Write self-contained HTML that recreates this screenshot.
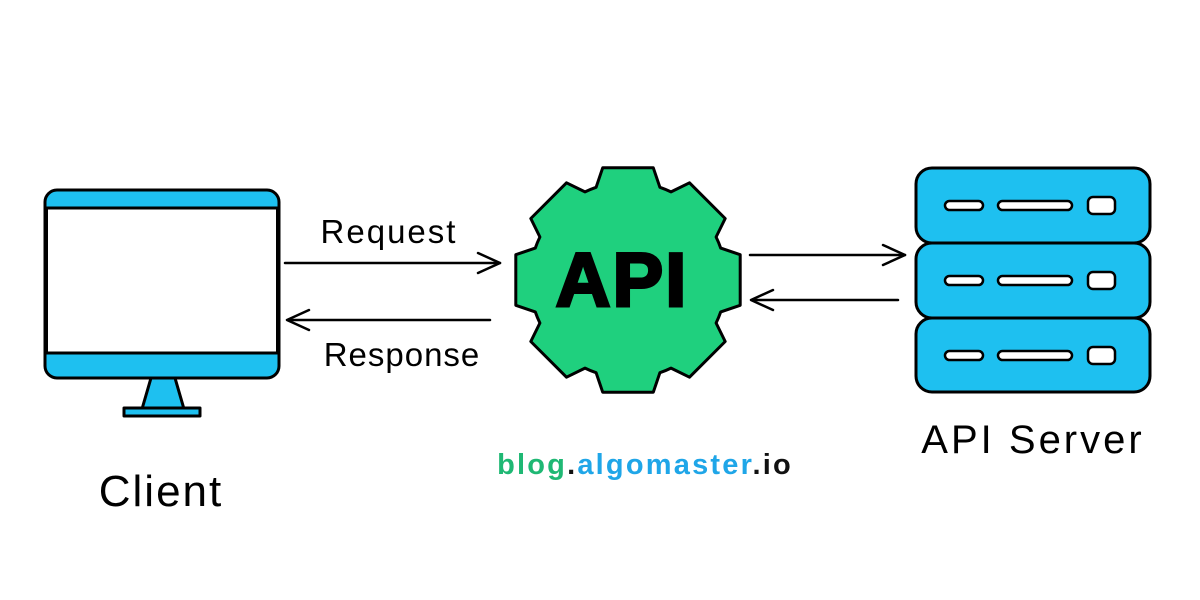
<!DOCTYPE html>
<html><head><meta charset="utf-8"><style>
html,body{margin:0;padding:0;background:#fff;}
svg{display:block;}
</style></head><body>
<svg width="1200" height="600" viewBox="0 0 1200 600" xmlns="http://www.w3.org/2000/svg">
<rect width="1200" height="600" fill="#fff"/>
<g stroke="#000" stroke-width="3" stroke-linejoin="round">
<polygon points="151,378 175,378 184,409 142,409" fill="#1ec0f0"/>
<rect x="124" y="408" width="76" height="8" fill="#1ec0f0"/>
<rect x="45" y="190" width="234" height="188" rx="12" fill="#1ec0f0"/>
<rect x="46.5" y="208" width="231" height="145" fill="#fff"/>
</g>
<g stroke="#000" stroke-width="2.5" fill="none" stroke-linecap="round" stroke-linejoin="round">
<line x1="285" y1="263" x2="500" y2="263"/>
<polyline points="478,253 500,263 478,273"/>
<line x1="288" y1="320" x2="490" y2="320"/>
<polyline points="309,310 287,320 309,330"/>
<line x1="750" y1="255" x2="905" y2="255"/>
<polyline points="883,245 905,255 883,265"/>
<line x1="752" y1="300" x2="898" y2="300"/>
<polyline points="773,290 751,300 773,310"/>
</g>
<path d="M596.1,187.3 L602.7,167.8 L653.3,167.8 L659.9,187.3 A98 98 0 0 1 671.0,191.9 L689.5,182.8 L725.2,218.5 L716.1,237.0 A98 98 0 0 1 720.7,248.1 L740.2,254.7 L740.2,305.3 L720.7,311.9 A98 98 0 0 1 716.1,323.0 L725.2,341.5 L689.5,377.2 L671.0,368.1 A98 98 0 0 1 659.9,372.7 L653.3,392.2 L602.7,392.2 L596.1,372.7 A98 98 0 0 1 585.0,368.1 L566.5,377.2 L530.8,341.5 L539.9,323.0 A98 98 0 0 1 535.3,311.9 L515.8,305.3 L515.8,254.7 L535.3,248.1 A98 98 0 0 1 539.9,237.0 L530.8,218.5 L566.5,182.8 L585.0,191.9 A98 98 0 0 1 596.1,187.3 Z" fill="#1fd07e" stroke="#000" stroke-width="3" stroke-linejoin="round"/>
<text x="622" y="306" text-anchor="middle" font-family="Liberation Sans, sans-serif" font-weight="bold" font-size="76" letter-spacing="2" fill="#000" stroke="#000" stroke-width="3">API</text>
<g stroke="#000" stroke-width="3" stroke-linejoin="round">
<rect x="916" y="318" width="234" height="74" rx="16" fill="#1ec0f0"/>
<rect x="916" y="243" width="234" height="75" rx="16" fill="#1ec0f0"/>
<rect x="916" y="168" width="234" height="75" rx="16" fill="#1ec0f0"/>
</g>
<g stroke="#000" stroke-width="2.5" fill="#fff">
<rect x="945" y="201" width="38" height="9" rx="4.5"/><rect x="998" y="201" width="74" height="9" rx="4.5"/><rect x="1088" y="197" width="27" height="17" rx="5"/>
<rect x="945" y="276" width="38" height="9" rx="4.5"/><rect x="998" y="276" width="74" height="9" rx="4.5"/><rect x="1088" y="272" width="27" height="17" rx="5"/>
<rect x="945" y="351" width="38" height="9" rx="4.5"/><rect x="998" y="351" width="74" height="9" rx="4.5"/><rect x="1088" y="347" width="27" height="17" rx="5"/>
</g>
<g font-family="Liberation Sans, sans-serif" fill="#000">
<text x="389" y="243" text-anchor="middle" font-size="33" letter-spacing="2">Request</text>
<text x="402" y="366" text-anchor="middle" font-size="33" letter-spacing="1">Response</text>
<text x="161" y="506" text-anchor="middle" font-size="44" letter-spacing="2">Client</text>
<text x="1033" y="453" text-anchor="middle" font-size="40" letter-spacing="3">API Server</text>
<text x="645" y="474" text-anchor="middle" font-size="29" font-weight="bold" letter-spacing="2.2"><tspan fill="#1fb874">blog</tspan><tspan fill="#111">.</tspan><tspan fill="#1fa6e8">algomaster</tspan><tspan fill="#111">.io</tspan></text>
</g>
</svg>
</body></html>
